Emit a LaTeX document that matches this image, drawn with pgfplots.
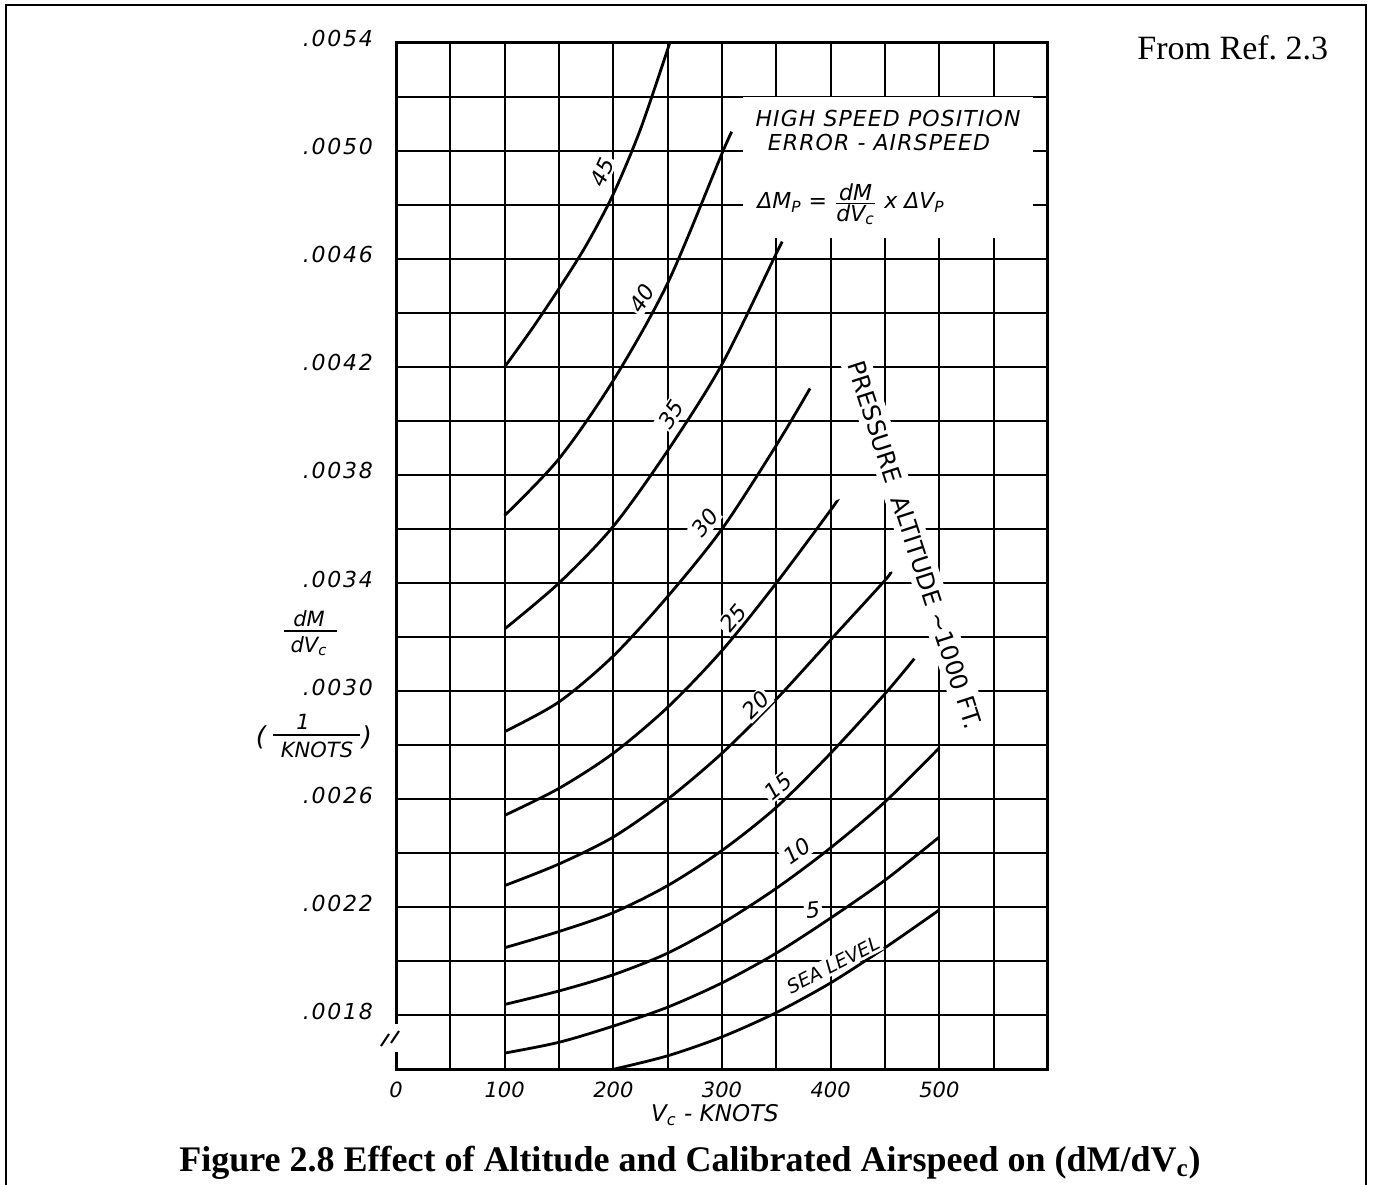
\documentclass[border=0pt]{standalone}
\usepackage{fontspec}
\setmainfont{Liberation Serif}
\newfontfamily\hand{DejaVu Sans}
\usepackage{pgfplots}
\usepackage{pgfplotstable}
\pgfplotsset{compat=1.18}

\pgfplotstableread{
x y
200 0.00160
250 0.00165
300 0.00172
350 0.00181
400 0.00192
450 0.00205
500 0.00219
}\sealevel
\pgfplotstableread{
x y
100 0.00166
150 0.00170
200 0.00176
250 0.00183
300 0.00192
350 0.00203
400 0.00216
450 0.00230
500 0.00246
}\altfive
\pgfplotstableread{
x y
100 0.00184
150 0.00189
200 0.00195
250 0.00203
300 0.00214
350 0.00227
400 0.00242
450 0.00259
500 0.00279
}\altten
\pgfplotstableread{
x y
100 0.00205
150 0.00211
200 0.00218
250 0.00228
300 0.00241
350 0.00257
400 0.00277
450 0.00299
477 0.00312
}\altfifteen
\pgfplotstableread{
x y
100 0.00228
150 0.00236
200 0.00246
250 0.00260
300 0.00277
350 0.00297
400 0.00319
450 0.00341
455 0.00344
}\alttwenty
\pgfplotstableread{
x y
100 0.00254
150 0.00264
200 0.00277
250 0.00294
300 0.00315
350 0.00340
400 0.00367
405 0.00370
}\alttwentyfive
\pgfplotstableread{
x y
100 0.00285
150 0.00296
200 0.00313
250 0.00335
300 0.00360
350 0.00391
381 0.00412
}\altthirty
\pgfplotstableread{
x y
100 0.00323
150 0.00340
200 0.00361
250 0.00389
300 0.00421
350 0.00462
355 0.00466
}\altthirtyfive
\pgfplotstableread{
x y
100 0.00365
150 0.00386
200 0.00415
250 0.00451
300 0.00499
309 0.00507
}\altforty
\pgfplotstableread{
x y
100 0.00420
125 0.00434
150 0.00449
175 0.00465
200 0.00484
225 0.00508
252 0.00540
}\altfortyfive

\begin{document}
\begin{tikzpicture}
\useasboundingbox (0,0) rectangle (687.5pt,592pt);
\begin{axis}[
  at={(198pt,57.35pt)}, anchor=south west,
  scale only axis, width=326pt, height=513.3pt,
  xmin=0, xmax=600, ymin=0.0016, ymax=0.0054,
  xtick={0,50,...,550},
  xticklabels={0,,100,,200,,300,,400,,500,},
  ytick={0.0016,0.0018,0.0020,0.0022,0.0024,0.0026,0.0028,0.0030,0.0032,0.0034,0.0036,0.0038,0.0040,0.0042,0.0044,0.0046,0.0048,0.0050,0.0052,0.0054},
  yticklabels={,.0018,,.0022,,.0026,,.0030,,.0034,,.0038,,.0042,,.0046,,.0050,,.0054},
  scaled y ticks=false, scaled x ticks=false,
  grid=major,
  major tick length=0pt,
  x grid style={black, line width=0.9pt},
  y grid style={black, line width=1.1pt},
  axis line style={black, line width=1.5pt},
  xticklabel style={yshift=-3pt, font=\hand\itshape\fontsize{10.5}{12}\selectfont},
  yticklabel style={xshift=-8pt, yshift=2pt, font=\hand\itshape\fontsize{11}{12}\selectfont\addfontfeature{LetterSpace=8}},
  clip=false,
]
\addplot[black, line width=1.4pt, smooth] table {\sealevel};
\addplot[black, line width=1.4pt, smooth] table {\altfive};
\addplot[black, line width=1.4pt, smooth] table {\altten};
\addplot[black, line width=1.4pt, smooth] table {\altfifteen};
\addplot[black, line width=1.4pt, smooth] table {\alttwenty};
\addplot[black, line width=1.4pt, smooth] table {\alttwentyfive};
\addplot[black, line width=1.4pt, smooth] table {\altthirty};
\addplot[black, line width=1.4pt, smooth] table {\altthirtyfive};
\addplot[black, line width=1.4pt, smooth] table {\altforty};
\addplot[black, line width=1.4pt, smooth] table {\altfortyfive};
\end{axis}
\begin{scope}[x=0.5pt, y=-0.5pt, yshift=592pt]
% frame
\draw[line width=1.4pt] (6,1190) -- (6,5) -- (1366,5) -- (1366,1190);
% axis break
\fill[white] (389,1024) rectangle (401,1052);
\draw[line width=1pt] (381,1046) -- (389,1034);
\draw[line width=1pt] (391,1043) -- (399,1031);
% title box
\fill[white] (743,97) rectangle (1033,238);
\node[font=\hand\itshape\fontsize{11}{13}\selectfont\addfontfeature{LetterSpace=5}] at (888,119) {HIGH SPEED POSITION};
\node[font=\hand\itshape\fontsize{11}{13}\selectfont\addfontfeature{LetterSpace=5}] at (879,143) {ERROR - AIRSPEED};
\node[font=\hand\itshape\fontsize{11}{13}\selectfont] at (851,204) {ΔM\textsubscript{P} = $\frac{\mbox{\hand\itshape\fontsize{11}{13}\selectfont dM}}{\mbox{\hand\itshape\fontsize{11}{13}\selectfont dV\textsubscript{c}}}$ x ΔV\textsubscript{P}};
% pressure altitude text
\node[rotate=-72, fill=white, inner sep=3pt, font=\hand\fontsize{12}{14}\selectfont] at (915,545) {PRESSURE\ \ ALTITUDE ∼1000 FT.};
% curve labels
\begin{scope}[every node/.style={fill=white, inner sep=1pt, font=\hand\itshape\fontsize{11}{12}\selectfont}]
\node[rotate=65] at (602,172) {45};
\node[rotate=58] at (642,298) {40};
\node[rotate=57] at (671,414) {35};
\node[rotate=52] at (705,523) {30};
\node[rotate=50] at (733,618) {25};
\node[rotate=45] at (756,705) {20};
\node[rotate=40] at (778,786) {15};
\node[rotate=35] at (797,851) {10};
\node[rotate=5] at (813,910) {5};
\node[rotate=27, font=\hand\itshape\fontsize{9.5}{11}\selectfont] at (833,965) {SEA LEVEL};
\end{scope}
% y label
\begin{scope}[every node/.style={font=\hand\itshape\fontsize{10.5}{12}\selectfont, inner sep=0pt}]
\node at (309,619) {dM};
\draw[line width=0.8pt] (284,631) -- (337,631);
\node at (309,646) {dV\textsubscript{c}};
\node at (303,722) {1};
\draw[line width=0.8pt] (273,735) -- (360,735);
\node at (317,750) {KNOTS};
\node[font=\hand\itshape\fontsize{13}{14}\selectfont] at (261,737) {(};
\node[font=\hand\itshape\fontsize{13}{14}\selectfont] at (367,737) {)};
\end{scope}
% x label
\node[font=\hand\itshape\fontsize{11.5}{13}\selectfont] at (715,1115) {V\textsubscript{c} - KNOTS};
% from ref
\node[anchor=base west, inner sep=0pt, font=\fontsize{17}{20}\selectfont] at (1137,60) {From Ref.\ 2.3};
% caption
\node[anchor=base, inner sep=0pt, font=\bfseries\fontsize{18}{21}\selectfont] at (690,1171) {Figure 2.8 Effect of Altitude and Calibrated Airspeed on (dM/dV\textsubscript{c})};
\end{scope}
\end{tikzpicture}
\end{document}
